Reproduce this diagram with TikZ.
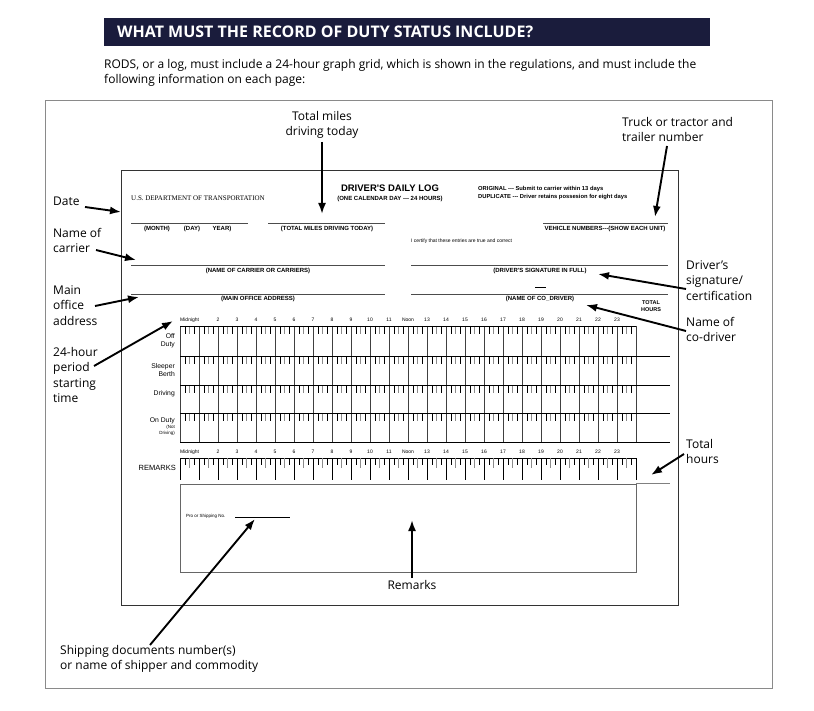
\documentclass[tikz,border=0pt]{standalone}
\usepackage{fontspec}
\setmainfont{Open Sans}
\newfontfamily\frm{Liberation Sans}
\newfontfamily\srf{Liberation Serif}
\usetikzlibrary{arrows.meta}
\definecolor{navy}{HTML}{1A1C3C}
\definecolor{frame}{HTML}{8A8A8A}
\begin{document}
\begin{tikzpicture}[x=1pt,y=-1pt,
  ann/.style={font=\fontsize{12}{15.5}\selectfont,align=left,anchor=north west,inner sep=0pt},
  arr/.style={line width=1.9pt,-{Latex[length=11pt,width=8pt]}},
  lab/.style={font=\frm\bfseries\fontsize{6}{7}\selectfont,inner sep=0pt},
  hr/.style={font=\frm\fontsize{5}{6}\selectfont,inner sep=0pt},
  row/.style={font=\frm\fontsize{6.8}{8}\selectfont,align=right,anchor=east,inner sep=0pt},
  fl/.style={draw=black!70,line width=0.5pt}]
\useasboundingbox (0,0) rectangle (814,711);
% header
\fill[navy] (104,18) rectangle (710,46);
\node[anchor=west,text=white,font=\bfseries\fontsize{16}{18}\selectfont,inner sep=0pt] (title) at (117,32) {WHAT MUST THE RECORD OF DUTY STATUS INCLUDE?};
\node[ann,anchor=north west] (intro) at (104,59) {RODS, or a log, must include a 24-hour graph grid, which is shown in the regulations, and must include the\\following information on each page:};
% frames
\draw[frame,line width=1pt] (45,101) rectangle (772,688);
\draw[black!80,line width=0.8pt] (121,170) rectangle (678,605);
% form header
\node[anchor=west,inner sep=0pt,font=\srf\fontsize{7}{8}\selectfont] (dot) at (131,198) {U.S. DEPARTMENT OF TRANSPORTATION};
\node[inner sep=0pt,font=\frm\bfseries\fontsize{9.5}{11}\selectfont] (ddl) at (390,188) {DRIVER'S DAILY LOG};
\node[lab] (cal) at (390,199) {(ONE CALENDAR DAY --- 24 HOURS)};
\node[lab,anchor=north west,align=left,font=\frm\bfseries\fontsize{5.8}{8.5}\selectfont] (orig) at (478,186) {ORIGINAL --- Submit to carrier within 13 days\\DUPLICATE --- Driver retains possesion for eight days};
% lines
\draw[fl] (131,223) -- (248,223);
\draw[fl] (268,223) -- (385,223);
\draw[fl] (543,223) -- (668,223);
\node[lab] (mon) at (157,229) {(MONTH)};
\node[lab] (day) at (192,229) {(DAY)};
\node[lab] (yr) at (222,229) {YEAR)};
\node[lab] (tm) at (327,229) {(TOTAL MILES DRIVING TODAY)};
\node[lab] (vn) at (605,229) {VEHICLE NUMBERS---(SHOW EACH UNIT)};
\node[hr,anchor=west] (cert) at (411,241) {I certify that these entries are true and correct};
\draw[fl] (131,265) -- (385,265);
\draw[fl] (411,265) -- (668,265);
\node[lab] (nc) at (258,271) {(NAME OF CARRIER OR CARRIERS)};
\node[lab] (ds) at (540,271) {(DRIVER'S SIGNATURE IN FULL)};
\draw[line width=0.8pt] (535,287) -- (546,287);
\draw[fl] (131,294) -- (385,294);
\draw[fl] (411,294) -- (668,294);
\node[lab] (moa) at (258,299) {(MAIN OFFICE ADDRESS)};
\node[lab] (ncd) at (540,299) {(NAME OF CO\_DRIVER)};
\node[lab,align=center,font=\frm\bfseries\fontsize{5.5}{7}\selectfont] (th) at (651,306) {TOTAL\\HOURS};
% grid hour labels
\foreach \yy in {320,452}{
  \node[hr,anchor=west] at (180,\yy) {Midnight};
  \foreach \h in {2,...,11,13,14,...,23}{\node[hr] at ({180+\h*19},\yy) {\h};}
  \node[hr] at (408,\yy) {Noon};
}
% grid
\foreach \yy in {326,356,385,413}{
  \foreach \h in {0,...,23}{
    \draw[line width=0.5pt] ({180+\h*19+4.75},\yy) -- ++(0,8);
    \draw[black!45,line width=0.9pt] ({180+\h*19+9.5},\yy) -- ++(0,8);
    \draw[line width=0.5pt] ({180+\h*19+14.25},\yy) -- ++(0,8);
  }}
\foreach \h in {0,...,24}{\draw[black!75,line width=1pt] ({180+\h*19},326) -- ({180+\h*19},442);}
\draw[line width=0.7pt] (180,326) -- (636,326);
\foreach \yy in {356,385,413,442}{\draw[line width=0.7pt] (180,\yy) -- (670,\yy);}
\node[row] (off) at (175,341) {Off\\Duty};
\node[row] (sb) at (175,370) {Sleeper\\Berth};
\node[row] (drv) at (175,394) {Driving};
\node[row,font=\frm\fontsize{6.8}{6}\selectfont] (ond) at (175,427) {On Duty\\{\fontsize{4.5}{5}\selectfont(Not}\\{\fontsize{4.5}{5}\selectfont Driving)}};
% remarks scale
\draw[line width=0.7pt] (180,458) -- (636,458);
\foreach \h in {0,...,23}{
  \draw[line width=0.5pt] ({180+\h*19+4.75},458) -- ++(0,7);
  \draw[black!45,line width=0.9pt] ({180+\h*19+9.5},458) -- ++(0,10);
  \draw[line width=0.5pt] ({180+\h*19+14.25},458) -- ++(0,7);
}
\foreach \h in {0,...,24}{\draw[line width=0.9pt] ({180+\h*19},458) -- ({180+\h*19},480);}
\node[row,font=\frm\fontsize{7.5}{8}\selectfont] (rem) at (176,468) {REMARKS};
\draw[black!50,line width=0.7pt] (636,483) -- (670,483);
\draw[black!60,line width=0.7pt] (180,484) rectangle (636,572);
\node[hr,anchor=west,font=\frm\fontsize{4.5}{5}\selectfont] (pro) at (186,516) {Pro or Shipping No.};
\draw[line width=0.4pt] (235,517) -- (290,517);
% annotations
\node[ann,align=center,anchor=north] (tmd) at (322,111) {Total miles\\driving today};
\node[ann] (truck) at (622,117) {Truck or tractor and\\trailer number};
\node[ann] (date) at (53,197) {Date};
\node[ann] (carr) at (53,228) {Name of\\carrier};
\node[ann] (moff) at (53,285) {Main\\office\\address};
\node[ann] (per) at (53,347) {24-hour\\period\\starting\\time};
\node[ann] (sig) at (686,260) {Driver's\\signature/\\certification};
\node[ann] (cod) at (686,317) {Name of\\co-driver};
\node[ann] (toth) at (686,439) {Total\\hours};
\node[ann,anchor=north] (rmk) at (412,580) {Remarks};
\node[ann] (ship) at (60,645) {Shipping documents number(s)\\or name of shipper and commodity};
\coordinate (t1) at (322,214);
\coordinate (t2) at (655,217);
\coordinate (t3) at (121,212);
\coordinate (t4) at (136,260);
\coordinate (t5) at (139,297);
\coordinate (t6) at (173,321);
\coordinate (t7) at (598,274);
\coordinate (t8) at (586,305);
\coordinate (t9) at (651,475);
\coordinate (t10) at (412,520);
\coordinate (t11) at (255,519);
\draw[arr] (322,142) -- (t1);
\draw[arr] (667,146) -- (t2);
\draw[arr] (85,207) -- (t3);
\draw[arr] (96,250) -- (t4);
\draw[arr] (95,306) -- (t5);
\draw[arr] (94,366) -- (t6);
\draw[arr] (686,289) -- (t7);
\draw[arr] (686,331) -- (t8);
\draw[arr] (684,454) -- (t9);
\draw[arr] (412,578) -- (t10);
\draw[arr] (150,645) -- (t11);
\end{tikzpicture}
\end{document}
